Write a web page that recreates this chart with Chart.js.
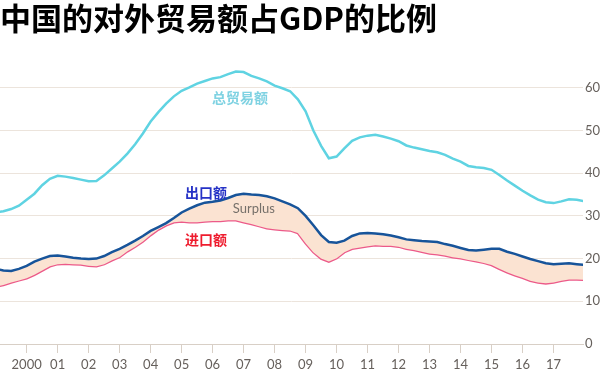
<!DOCTYPE html>
<html>
<head>
<meta charset="utf-8">
<script src="https://cdn.jsdelivr.net/npm/chart.js@4"></script>
<style>
  html, body { margin: 0; padding: 0; background: #fff; }
  canvas { display: block; }
</style>
</head>
<body>
<canvas id="tradeChart" width="600" height="371"></canvas>
<script>
// Quarterly, 1999 Q1 to 2018 Q1
const quarters = [
  1999.00, 1999.25, 1999.50, 1999.75, 2000.00, 2000.25, 2000.50, 2000.75,
  2001.00, 2001.25, 2001.50, 2001.75, 2002.00, 2002.25, 2002.50, 2002.75,
  2003.00, 2003.25, 2003.50, 2003.75, 2004.00, 2004.25, 2004.50, 2004.75,
  2005.00, 2005.25, 2005.50, 2005.75, 2006.00, 2006.25, 2006.50, 2006.75,
  2007.00, 2007.25, 2007.50, 2007.75, 2008.00, 2008.25, 2008.50, 2008.75,
  2009.00, 2009.25, 2009.50, 2009.75, 2010.00, 2010.25, 2010.50, 2010.75,
  2011.00, 2011.25, 2011.50, 2011.75, 2012.00, 2012.25, 2012.50, 2012.75,
  2013.00, 2013.25, 2013.50, 2013.75, 2014.00, 2014.25, 2014.50, 2014.75,
  2015.00, 2015.25, 2015.50, 2015.75, 2016.00, 2016.25, 2016.50, 2016.75,
  2017.00, 2017.25, 2017.50, 2017.75, 2018.00
];

// 总贸易额 (% of GDP)
const totalTrade = [
  30.8, 31.1, 31.6, 32.4, 33.8, 35.2, 37.2, 38.7,
  39.4, 39.2, 38.9, 38.5, 38.1, 38.2, 39.5, 41.1,
  42.7, 44.6, 46.8, 49.3, 52.1, 54.3, 56.3, 58.0,
  59.3, 60.1, 61.0, 61.6, 62.2, 62.5, 63.2, 63.8,
  63.7, 62.8, 62.2, 61.5, 60.5, 59.9, 59.2, 57.3,
  54.5, 50.0, 46.4, 43.5, 43.9, 45.8, 47.6, 48.4,
  48.8, 49.0, 48.6, 48.1, 47.5, 46.5, 46.0, 45.6,
  45.2, 44.9, 44.3, 43.4, 42.7, 41.7, 41.4, 41.2,
  40.8, 39.6, 38.3, 37.1, 35.9, 34.8, 33.8, 33.2,
  33.0, 33.4, 33.9, 33.8, 33.4
];

// 出口额
const exportsPct = [
  17.6, 17.2, 17.1, 17.6, 18.3, 19.3, 20.0, 20.6,
  20.7, 20.5, 20.2, 20.0, 19.9, 20.0, 20.6, 21.5,
  22.3, 23.2, 24.2, 25.3, 26.5, 27.4, 28.3, 29.5,
  30.8, 31.7, 32.5, 33.1, 33.3, 33.6, 34.2, 34.9,
  35.2, 35.0, 34.9, 34.6, 34.1, 33.4, 32.7, 31.8,
  30.0, 27.8, 25.5, 23.9, 23.7, 24.2, 25.3, 25.9,
  26.0, 25.9, 25.7, 25.4, 25.0, 24.5, 24.3, 24.1,
  24.0, 23.9, 23.4, 23.0, 22.5, 22.0, 21.9, 22.1,
  22.3, 22.3, 21.6, 21.1, 20.5, 19.9, 19.4, 18.9,
  18.7, 18.8, 18.9, 18.7, 18.5
];

// 进口额
const importsPct = [
  13.4, 13.8, 14.4, 14.9, 15.4, 16.2, 17.2, 18.2,
  18.7, 18.8, 18.7, 18.6, 18.3, 18.2, 18.7, 19.6,
  20.4, 21.7, 22.8, 24.0, 25.5, 26.8, 27.8, 28.5,
  28.7, 28.5, 28.5, 28.7, 28.8, 28.8, 29.0, 29.0,
  28.5, 28.1, 27.6, 27.1, 26.9, 26.7, 26.6, 26.0,
  23.6, 21.5, 20.0, 19.3, 20.1, 21.5, 22.3, 22.6,
  22.9, 23.1, 23.0, 23.0, 22.8, 22.3, 22.0, 21.6,
  21.2, 21.0, 20.7, 20.3, 20.1, 19.7, 19.4, 19.0,
  18.5, 17.6, 16.8, 16.1, 15.5, 14.8, 14.4, 14.2,
  14.4, 14.8, 15.1, 15.1, 15.0
];

const tickYears = [2000, 2001, 2002, 2003, 2004, 2005, 2006, 2007, 2008,
                   2009, 2010, 2011, 2012, 2013, 2014, 2015, 2016, 2017];
const tickLabels = ['2000', '01', '02', '03', '04', '05', '06', '07', '08',
                    '09', '10', '11', '12', '13', '14', '15', '16', '17'];
const yTicks = [0, 10, 20, 30, 40, 50, 60];

const toPoints = arr => arr.map((v, i) => ({ x: quarters[i], y: v }));

// text labels placed in data coordinates
const seriesLabels = [
  { text: '总贸易额', x: 2006.88, y: 57.8, color: '#7fd2e2', font: 'bold 14px "Noto Sans CJK SC"' },
  { text: '出口额', x: 2005.79, y: 35.4, color: '#2632c6', font: 'bold 14px "Noto Sans CJK SC"' },
  { text: '进口额', x: 2005.79, y: 24.4, color: '#ee1c2e', font: 'bold 14px "Noto Sans CJK SC"' },
  { text: 'Surplus', x: 2007.33, y: 31.7, color: '#76706a', font: '13px Lato' }
];

const labelPlugin = {
  id: 'seriesLabels',
  afterDatasetsDraw(chart) {
    const ctx = chart.ctx;
    const xs = chart.scales.x, ys = chart.scales.y;
    ctx.save();
    ctx.textAlign = 'center';
    ctx.textBaseline = 'middle';
    seriesLabels.forEach(l => {
      ctx.font = l.font;
      ctx.fillStyle = l.color;
      ctx.fillText(l.text, xs.getPixelForValue(l.x), ys.getPixelForValue(l.y));
    });
    ctx.restore();
  }
};

const ctx = document.getElementById('tradeChart').getContext('2d');
new Chart(ctx, {
  type: 'line',
  data: {
    datasets: [
      {
        label: '总贸易额',
        data: toPoints(totalTrade),
        borderColor: '#5fd3e2',
        borderWidth: 2.5,
        pointRadius: 0,
        fill: false
      },
      {
        label: '出口额',
        data: toPoints(exportsPct),
        borderColor: '#17549a',
        borderWidth: 2.5,
        pointRadius: 0,
        fill: { target: '+1', above: '#fbe3d2', below: '#fbe3d2' }
      },
      {
        label: '进口额',
        data: toPoints(importsPct),
        borderColor: '#ec5a89',
        borderWidth: 2.5,
        pointRadius: 0,
        fill: false
      }
    ]
  },
  options: {
    responsive: false,
    animation: false,
    layout: { padding: { left: 0, right: 0, top: 0, bottom: 0 } },
    plugins: {
      legend: { display: false },
      tooltip: { enabled: false },
      title: {
        display: true,
        text: '中国的对外贸易额占GDP的比例',
        align: 'start',
        color: '#000',
        font: { family: '"Noto Sans CJK SC"', size: 31, weight: 'bold', lineHeight: 1.2 },
        padding: { top: 0, bottom: 25 }
      }
    },
    scales: {
      x: {
        type: 'linear',
        min: 1999.14,
        max: 2017.95,
        afterBuildTicks: scale => { scale.ticks = tickYears.map(v => ({ value: v })); },
        afterFit: scale => { scale.height = 27; },
        grid: {
          drawOnChartArea: false,
          drawTicks: true,
          tickLength: 9,
          color: '#d8cfc6'
        },
        border: { display: true, color: '#d8cfc6' },
        ticks: {
          autoSkip: false,
          maxRotation: 0,
          padding: 4,
          color: '#66605c',
          font: { family: 'Lato', size: 13 },
          callback: (value) => tickLabels[tickYears.indexOf(value)]
        }
      },
      y: {
        position: 'right',
        min: 0,
        max: 66,
        afterBuildTicks: scale => { scale.ticks = yTicks.map(v => ({ value: v })); },
        afterFit: scale => { scale.width = 17; },
        grid: { color: '#ece4dc', drawTicks: false },
        border: { display: false },
        ticks: {
          padding: 2,
          color: '#66605c',
          font: { family: 'Lato', size: 13 }
        }
      }
    }
  },
  plugins: [labelPlugin]
});
</script>
</body>
</html>
